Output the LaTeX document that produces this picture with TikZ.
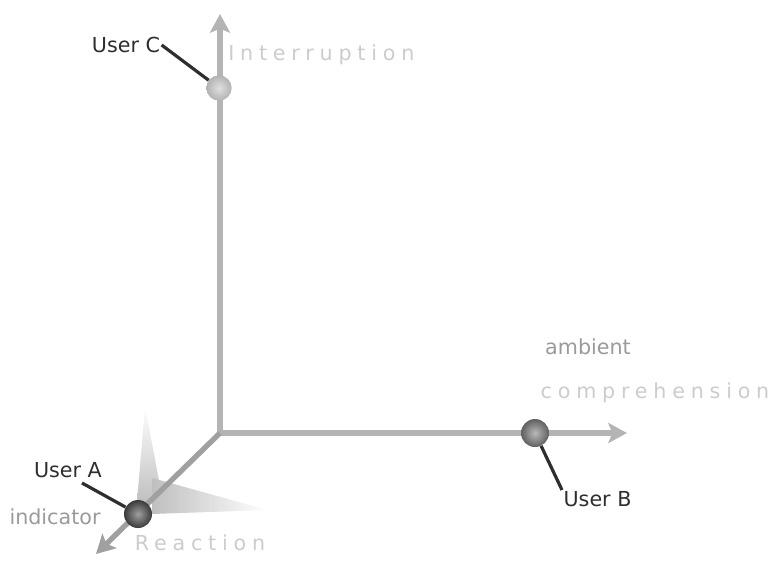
\documentclass[tikz,border=0pt]{standalone}
\usepackage{fontspec}
\setmainfont{DejaVu Sans}
\newfontfamily\airyfont[LetterSpace=28]{DejaVu Sans}
\usetikzlibrary{arrows.meta}

\definecolor{axisgray}{HTML}{B4B4B4}
\definecolor{diaggray}{HTML}{A0A0A0}
\definecolor{paletext}{HTML}{CCCCCC}
\definecolor{midtext}{HTML}{9A9A9A}
\definecolor{leadgray}{HTML}{2E2E2E}

\tikzset{
    axis/.style={line width=4pt, axisgray, -{Stealth[length=14pt,width=15pt,inset=3pt]}},
    ball/.style={circle, inner sep=0pt, minimum size=21pt},
    usertag/.style={inner sep=1pt, text=leadgray, font=\fontsize{15.5}{18}\selectfont},
    leader/.style={line width=2.4pt, leadgray},
    paletag/.style={inner sep=0pt, text=paletext, font=\airyfont\fontsize{15.5}{18}\selectfont},
    midtag/.style={inner sep=0pt, text=midtext, font=\fontsize{15.5}{18}\selectfont}
}

\begin{document}
\begin{tikzpicture}[x=0.75pt, y=-0.75pt]
    \useasboundingbox (0,0) rectangle (770,560);

    % soft shadows at the corner
    \shade[top color=white, bottom color=gray!50] (137,502) -- (163,502) -- (145,406) -- cycle;
    \shade[left color=gray!50, right color=white] (152,478) -- (152,514) -- (268,510) -- cycle;

    % the three axes
    \coordinate (O) at (220,433);
    \coordinate (up) at (220,14);
    \coordinate (right) at (627,433);
    \coordinate (down) at (96,554);
    \draw[axis] (O) -- (up);
    \draw[axis] (O) -- (right);
    \draw[axis, diaggray] (O) -- (down);

    % axis names
    \node[paletag, anchor=west] (interruption) at (228,55) {Interruption};
    \node[midtag] (ambient) at (588,347) {ambient};
    \node[paletag] (comprehension) at (655,393) {comprehension};
    \node[paletag] (reaction) at (200,543) {Reaction};
    \node[midtag] (indicator) at (55,517) {indicator};

    % users on the axes
    \node[ball, inner color=gray!75, outer color=gray!45!black] (ballA) at (138,514) {};
    \node[ball, inner color=gray!55, outer color=gray!75!black] (ballB) at (535,433) {};
    \node[ball, inner color=gray!25, outer color=gray!60, minimum size=19pt] (ballC) at (219,88) {};

    \node[usertag] (userA) at (68,470) {User A};
    \node[usertag, anchor=north west] (userB) at (562,490) {User B};
    \node[usertag] (userC) at (126,45) {User C};

    \coordinate (tagA) at (82,483);
    \draw[leader] (tagA) -- (ballA);
    \draw[leader] (ballB) -- (userB.north west);
    \draw[leader] (userC.east) -- (ballC);
\end{tikzpicture}
\end{document}
